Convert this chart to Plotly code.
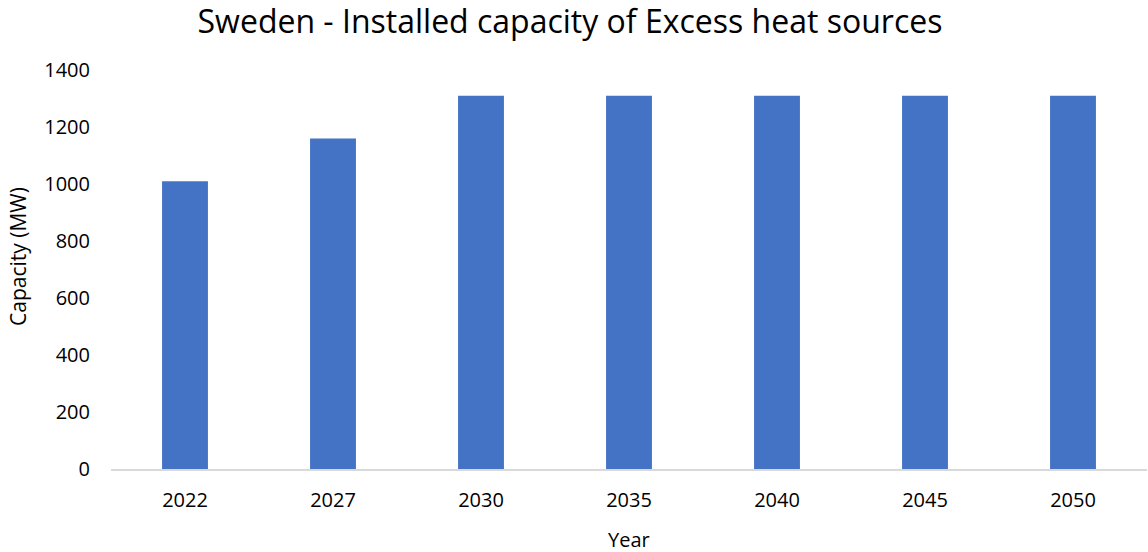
import plotly.graph_objects as go

years = ["2022", "2027", "2030", "2035", "2040", "2045", "2050"]
capacity = [1010, 1160, 1310, 1310, 1310, 1310, 1310]

L, R, T, B = 111, 1, 70, 83
W, H = 1148, 552
pw, ph = W - L - R, H - T - B

fig = go.Figure(go.Bar(x=years, y=capacity, marker_color="#4472C4",
                       marker_line_width=0))

fig.update_layout(
    width=W, height=H,
    margin=dict(l=L, r=R, t=T, b=B, autoexpand=False),
    paper_bgcolor="white", plot_bgcolor="white",
    bargap=0.69,
    font=dict(family="Open Sans", size=20, color="#000000"),
    title=dict(text="Sweden - Installed capacity of Excess heat sources",
               x=570 / W, xanchor="center", y=1 - 22 / H, yanchor="middle",
               font=dict(size=32, color="#000000")),
    showlegend=False,
    annotations=[
        dict(text="Year", xref="paper", yref="paper", x=(629 - L) / pw,
             y=(H - B - 539) / ph, xanchor="center", yanchor="middle",
             showarrow=False, font=dict(size=20)),
        dict(text="Capacity (MW)", xref="paper", yref="paper", x=(18 - L) / pw,
             y=(H - B - 257) / ph, xanchor="center", yanchor="middle",
             textangle=-90, showarrow=False, font=dict(size=21)),
    ],
)
fig.update_xaxes(showline=True, automargin=False,
                 linecolor="#D9D9D9", linewidth=1.5, ticks="", showgrid=False,
                 ticklabelstandoff=12)
fig.update_yaxes(range=[0, 1400], automargin=False,
                 dtick=200, showgrid=False, zeroline=False, ticks="",
                 ticklabelstandoff=20)

fig.write_html("out.html", config={"displayModeBar": False},
               post_script="document.body.style.margin='0';document.body.style.overflow='hidden';")
